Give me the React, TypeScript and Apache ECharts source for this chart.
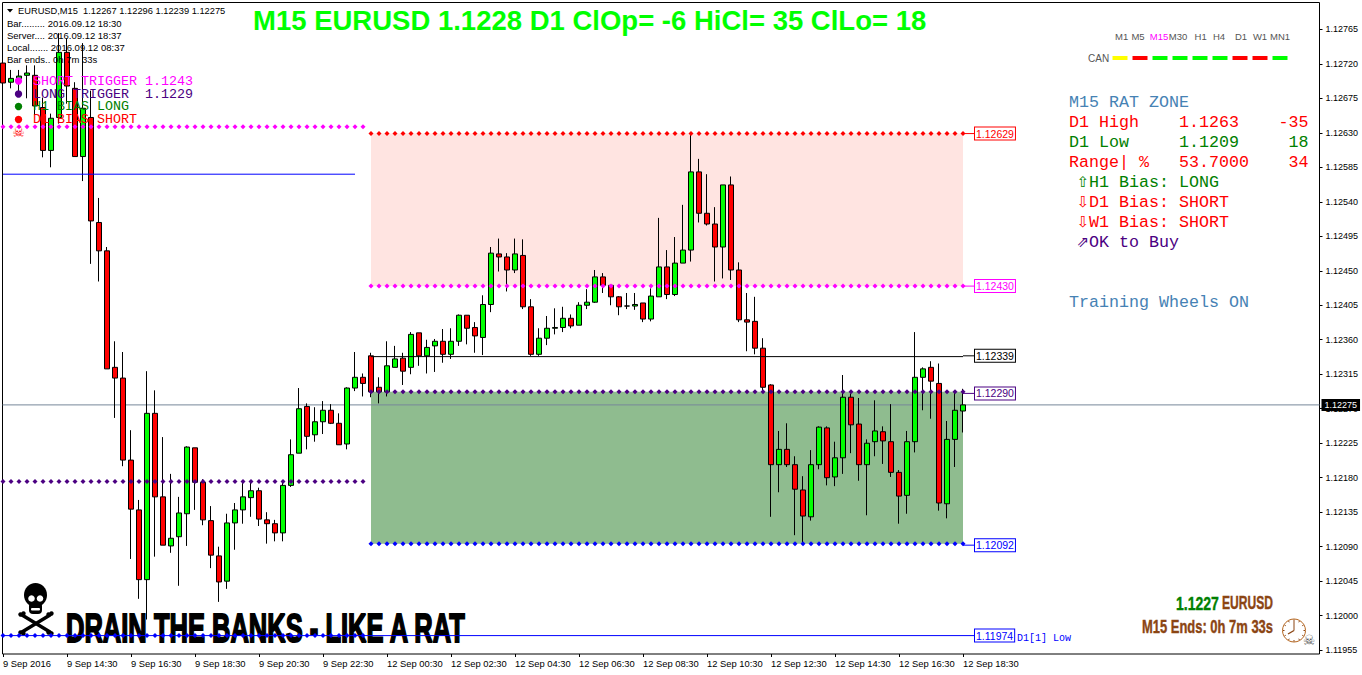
import React, { useEffect, useRef } from "react";
import * as echarts from "echarts";

const xLabels = ["9 Sep 2016","9 Sep 14:30","9 Sep 16:30","9 Sep 18:30","9 Sep 20:30","9 Sep 22:30","12 Sep 00:30","12 Sep 02:30","12 Sep 04:30","12 Sep 06:30","12 Sep 08:30","12 Sep 10:30","12 Sep 12:30","12 Sep 14:30","12 Sep 16:30","12 Sep 18:30"];
const yTicks = [1.11955,1.12,1.12045,1.1209,1.12135,1.1218,1.12225,1.1227,1.12315,1.1236,1.12405,1.1245,1.12495,1.1254,1.12585,1.1263,1.12675,1.1272,1.12765];

const open = [
1.12721,1.12696,1.12701,1.12705,1.12705,1.12663,1.12607,1.12650,1.12735,1.12688,
1.12599,1.12650,1.12513,1.12476,1.12324,1.12310,1.12203,1.12138,1.12047,1.12264,
1.12155,1.12091,1.12103,1.12133,1.12219,1.12174,1.12124,1.12078,1.12045,1.12121,
1.12138,1.12154,1.12163,1.12125,1.12120,1.12108,1.12170,1.12212,1.12273,1.12236,
1.12253,1.12268,1.12251,1.12224,1.12297,1.12311,1.12339,1.12298,1.12292,1.12324,
1.12336,1.12324,1.12369,1.12339,1.12352,1.12358,1.12341,1.12358,1.12392,1.12376,
1.12363,1.12406,1.12472,1.12468,1.12451,1.12470,1.12403,1.12341,1.12362,1.12375,
1.12376,1.12388,1.12379,1.12405,1.12409,1.12442,1.12431,1.12416,1.12404,1.12404,
1.12408,1.12387,1.12416,1.12455,1.12419,1.12460,1.12477,1.12579,1.12525,1.12511,
1.12481,1.12562,1.12451,1.12386,1.12384,1.12349,1.12301,1.12197,1.12217,1.12197,
1.12164,1.12129,1.12197,1.12245,1.12181,1.12206,1.12285,1.12250,1.12197,1.12227,
1.12240,1.12227,1.12187,1.12157,1.12227,1.12311,1.12324,1.12303,1.12146,1.12230,1.12267];
const high = [
1.12748,1.12712,1.12712,1.12718,1.12718,1.12676,1.12655,1.12760,1.12753,1.12696,
1.12747,1.12685,1.12545,1.12481,1.12358,1.12344,1.12242,1.12151,1.12319,1.12294,
1.12233,1.12185,1.12155,1.12221,1.12219,1.12178,1.12143,1.12090,1.12133,1.12147,
1.12173,1.12177,1.12167,1.12135,1.12125,1.12174,1.12230,1.12297,1.12277,1.12272,
1.12280,1.12276,1.12264,1.12298,1.12344,1.12316,1.12343,1.12311,1.12358,1.12352,
1.12343,1.12370,1.12369,1.12360,1.12361,1.12374,1.12375,1.12393,1.12392,1.12383,
1.12418,1.12481,1.12492,1.12473,1.12492,1.12491,1.12413,1.12375,1.12391,1.12401,
1.12403,1.12393,1.12409,1.12426,1.12451,1.12447,1.12431,1.12417,1.12421,1.12421,
1.12408,1.12427,1.12519,1.12477,1.12494,1.12536,1.12627,1.12596,1.12576,1.12533,
1.12562,1.12573,1.12461,1.12421,1.12416,1.12362,1.12302,1.12241,1.12251,1.12208,
1.12182,1.12216,1.12247,1.12247,1.12227,1.12314,1.12290,1.12284,1.12230,1.12281,
1.12247,1.12276,1.12190,1.12241,1.12370,1.12324,1.12332,1.12329,1.12254,1.12293,1.12296];
const low = [
1.12688,1.12688,1.12679,1.12675,1.12653,1.12598,1.12585,1.12642,1.12668,1.12599,
1.12567,1.12459,1.12436,1.12322,1.12258,1.12195,1.12074,1.12022,1.11995,1.12077,
1.12092,1.12082,1.12039,1.12091,1.12138,1.12118,1.12062,1.12018,1.12035,1.12086,
1.12120,1.12129,1.12117,1.12094,1.12097,1.12097,1.12168,1.12212,1.12217,1.12227,
1.12237,1.12250,1.12223,1.12217,1.12293,1.12286,1.12285,1.12277,1.12286,1.12324,
1.12301,1.12315,1.12326,1.12316,1.12318,1.12330,1.12335,1.12352,1.12354,1.12343,
1.12340,1.12396,1.12449,1.12423,1.12447,1.12400,1.12339,1.12339,1.12353,1.12367,
1.12370,1.12375,1.12379,1.12400,1.12408,1.12421,1.12405,1.12392,1.12400,1.12399,
1.12383,1.12384,1.12416,1.12413,1.12417,1.12460,1.12462,1.12513,1.12509,1.12436,
1.12440,1.12438,1.12383,1.12345,1.12341,1.12294,1.12129,1.12161,1.12194,1.12105,
1.12095,1.12124,1.12191,1.12170,1.12169,1.12185,1.12212,1.12176,1.12131,1.12208,
1.12198,1.12181,1.12120,1.12133,1.12213,1.12268,1.12257,1.12137,1.12127,1.12194,1.12239];
const close = [
1.12695,1.12701,1.12704,1.12708,1.12665,1.12607,1.12649,1.12735,1.12691,1.12599,
1.12662,1.12515,1.12476,1.12322,1.12310,1.12203,1.12139,1.12047,1.12264,1.12155,
1.12092,1.12101,1.12134,1.12220,1.12174,1.12125,1.12079,1.12044,1.12121,1.12138,
1.12155,1.12163,1.12126,1.12120,1.12108,1.12170,1.12210,1.12270,1.12234,1.12253,
1.12268,1.12251,1.12223,1.12297,1.12311,1.12303,1.12292,1.12292,1.12326,1.12335,
1.12319,1.12367,1.12339,1.12350,1.12358,1.12341,1.12358,1.12392,1.12375,1.12365,
1.12406,1.12473,1.12468,1.12451,1.12472,1.12403,1.12341,1.12362,1.12375,1.12376,
1.12388,1.12378,1.12405,1.12409,1.12442,1.12431,1.12416,1.12403,1.12404,1.12406,
1.12387,1.12417,1.12455,1.12419,1.12460,1.12477,1.12579,1.12525,1.12511,1.12481,
1.12562,1.12451,1.12386,1.12383,1.12349,1.12298,1.12197,1.12217,1.12197,1.12165,
1.12130,1.12197,1.12246,1.12180,1.12206,1.12285,1.12249,1.12197,1.12225,1.12241,
1.12228,1.12187,1.12156,1.12227,1.12311,1.12322,1.12306,1.12147,1.12230,1.12268,1.12275];

const lastPrice = 1.12275;
const shortTrigger = 1.12638;
const longTrigger = 1.12175;
const blueSupport = 1.12576;
const d1Low = 1.11974;
const zoneHigh = 1.12629;
const zoneHighBase = 1.1243;
const zoneLowTop = 1.12292;
const zoneLowBase = 1.12094;
const midLine = 1.12338;
const boxLabels = [
  { text: "1.12629", value: 1.12629, color: "#ff0000" },
  { text: "1.12430", value: 1.1243, color: "#ff00ff" },
  { text: "1.12339", value: 1.12339, color: "#000000" },
  { text: "1.12290", value: 1.1229, color: "#4b0082" },
  { text: "1.12092", value: 1.12092, color: "#0000ff" },
  { text: "1.11974", value: 1.11974, color: "#0000ff" },
];
const tfNames = ["M1","M5","M15","M30","H1","H4","D1","W1","MN1"];
const tfCenters = [1121.7,1138,1159,1178,1200.7,1219,1241,1260,1280];
const canColors = ["#ffff00","#ff0000","#00ff00","#00ff00","#00ff00","#00ff00","#ff0000","#ff0000","#00ff00"];

const N = 165;
const FIRST_ZONE = 46;
const LAST_BAR = 120;
const END = 122;
const SANS = '"Liberation Sans"';
const MONO = '"Liberation Mono"';

const span = (from: number, to: number, v: number) =>
  Array.from({ length: N }, (_, i) => (i >= from && i <= to ? v : null));

const dotted = (v: number, from: number, to: number, color: string, extra: any = {}) => ({
  type: "line", xAxisIndex: 1, yAxisIndex: 1, z: 3, silent: true,
  data: span(from, to, v), symbol: "diamond", symbolSize: 5, showAllSymbol: true,
  itemStyle: { color }, lineStyle: { width: 0, opacity: 0 }, ...extra,
});

const solid = (v: number, from: number, to: number, color: string, label?: string, z = 3) => ({
  type: "line", xAxisIndex: 1, yAxisIndex: 1, z, silent: true,
  data: span(from, to, v), showSymbol: false, lineStyle: { width: 1, color },
  itemStyle: { color },
  endLabel: label ? {
    show: true, formatter: label, color, fontFamily: SANS, fontSize: 10.5,
    backgroundColor: "#ffffff", borderColor: color, borderWidth: 1,
    padding: [1, 1, 0, 1], distance: -4,
  } : { show: false },
});

const txt = (text: string, x: number, y: number, fill: string, font: string, extra: any = {}) => {
  const { textAlign, z, scaleX, stroke, lineWidth } = extra;
  return {
    type: "text", x, y, z: z ?? 100, scaleX: scaleX ?? 1, silent: true,
    style: { text, fill, font, textAlign: textAlign ?? "left", textVerticalAlign: "middle",
      ...(stroke ? { stroke, lineWidth } : {}) },
  };
};

const legendFont = `13.33px ${MONO}`;
const panelFont = `16.67px ${MONO}`;
const infoFont = `9.5px ${SANS}`;

function buildGraphics() {
  const el: any[] = [];
  // top-left info block
  el.push({ type: "polygon", z: 100, silent: true, shape: { points: [[7, 9], [13, 9], [10, 12.5]] }, style: { fill: "#000" } });
  el.push(txt("EURUSD,M15  1.12267 1.12296 1.12239 1.12275", 18, 10.5, "#000", `9.3px ${SANS}`));
  el.push(txt("Bar......... 2016.09.12 18:30", 7, 23, "#000", infoFont));
  el.push(txt("Server.... 2016.09.12 18:37", 7, 35, "#000", infoFont));
  el.push(txt("Local....... 2016.09.12 08:37", 7, 47.5, "#000", infoFont));
  el.push(txt("Bar ends.. 0h 7m 33s", 7, 59.5, "#000", infoFont));
  // trigger legend
  const legend: [string, string, number][] = [
    ["SHORT TRIGGER 1.1243", "#ff00ff", 81],
    ["LONG TRIGGER  1.1229", "#4b0082", 94],
    ["H1 BIAS LONG", "#008000", 106.5],
    ["D1 BIAS SHORT", "#ff0000", 119.5],
  ];
  legend.forEach(([t, c, y]) => {
    el.push({ type: "circle", z: 100, silent: true, shape: { cx: 18.5, cy: y, r: 3.7 }, style: { fill: c } });
    el.push(txt(t, 33, y, c, legendFont));
  });
  el.push(txt("☠", 18.5, 132, "#ff0000", `14px "DejaVu Sans"`, { textAlign: "center" }));
  // title
  el.push(txt("M15 EURUSD 1.1228 D1 ClOp= -6 HiCl= 35 ClLo= 18", 253, 20, "#00ff00", `bold 27.5px ${SANS}`));
  // timeframe table
  tfNames.forEach((n, i) => {
    el.push(txt(n, tfCenters[i], 36, n === "M15" ? "#ff00ff" : "#555555", `9.5px ${SANS}`, { textAlign: "center" }));
    el.push({ type: "rect", z: 100, silent: true, shape: { x: 1112.5 + i * 20, y: 56, width: 15, height: 4 }, style: { fill: canColors[i] } });
  });
  el.push(txt("CAN", 1088, 58.5, "#555555", `10px ${SANS}`));
  // rat-zone panel
  el.push(txt("M15 RAT ZONE", 1069, 102, "#4682b4", panelFont));
  const rows: [string, string, string, string, number][] = [
    ["D1 High", "1.1263", "-35", "#ff0000", 122],
    ["D1 Low", "1.1209", "18", "#008000", 142],
    ["Range| %", "53.7000", "34", "#ff0000", 162],
  ];
  rows.forEach(([a, b, c, col, y]) => {
    el.push(txt(a, 1069, y, col, panelFont));
    el.push(txt(b, 1179, y, col, panelFont));
    el.push(txt(c, 1308.5, y, col, panelFont, { textAlign: "right" }));
  });
  const bias: [string, string, string, number][] = [
    ["⇧", "H1 Bias: LONG", "#008000", 182],
    ["⇩", "D1 Bias: SHORT", "#ff0000", 202],
    ["⇩", "W1 Bias: SHORT", "#ff0000", 222],
    ["⇗", "OK to Buy", "#4b0082", 242],
  ];
  bias.forEach(([g, t, c, y]) => {
    el.push(txt(g, 1083, y, c, `15px "DejaVu Sans"`, { textAlign: "center" }));
    el.push(txt(t, 1089, y, c, panelFont));
  });
  el.push(txt("Training Wheels ON", 1069, 302, "#4682b4", panelFont));
  el.push(txt("D1[1] Low", 1017, 638.5, "#0000ff", `10px ${MONO}`));
  // bottom banner
  el.push(txt("DRAIN THE BANKS - LIKE A RAT", 66, 628, "#000", `bold 40px ${SANS}`, { z: 0, scaleX: 0.638, stroke: "#000", lineWidth: 1.8 }));
  // skull and bones
  const bones: number[][] = [[22, 615, 50, 632], [50, 615, 22, 632]];
  bones.forEach(([x1, y1, x2, y2]) => {
    el.push({ type: "line", z: 0, silent: true, shape: { x1, y1, x2, y2 }, style: { stroke: "#000", lineWidth: 3.5, lineCap: "round" } });
    [[x1, y1], [x2, y2]].forEach(([cx, cy]) => {
      const dy = cy < 623 ? -1 : 1;
      el.push({ type: "circle", z: 0, silent: true, shape: { cx: cx - 1.5, cy: cy + dy * 0.5, r: 2.2 }, style: { fill: "#000" } });
      el.push({ type: "circle", z: 0, silent: true, shape: { cx: cx + 1.5, cy: cy + dy * 1.5, r: 2.2 }, style: { fill: "#000" } });
    });
  });
  el.push({ type: "ellipse", z: 0, silent: true, shape: { cx: 35.5, cy: 595, rx: 11.5, ry: 12 }, style: { fill: "#000" } });
  el.push({ type: "rect", z: 0, silent: true, shape: { x: 29, y: 602, width: 13, height: 12, r: 4 }, style: { fill: "#000" } });
  el.push({ type: "circle", z: 0, silent: true, shape: { cx: 31.5, cy: 598.5, r: 3.3 }, style: { fill: "#fff" } });
  el.push({ type: "circle", z: 0, silent: true, shape: { cx: 40, cy: 598.5, r: 3.3 }, style: { fill: "#fff" } });
  el.push({ type: "rect", z: 0, silent: true, shape: { x: 31, y: 608, width: 9, height: 2.5, r: 1 }, style: { fill: "#fff" } });
  // bottom-right
  el.push(txt("1.1227", 1176, 603, "#008000", `bold 18px ${SANS}`, { scaleX: 0.78, stroke: "#008000", lineWidth: 0.4 }));
  el.push(txt("EURUSD", 1222, 603, "#8b4513", `bold 18px ${SANS}`, { scaleX: 0.67, stroke: "#8b4513", lineWidth: 0.4 }));
  el.push(txt("M15 Ends: 0h 7m 33s", 1142, 627, "#8b4513", `bold 18px ${SANS}`, { scaleX: 0.72, stroke: "#8b4513", lineWidth: 0.4 }));
  el.push({ type: "circle", z: 100, silent: true, shape: { cx: 1294, cy: 630.5, r: 11.5 }, style: { fill: "#fff", stroke: "#b5651d", lineWidth: 1 } });
  for (let h = 0; h < 12; h++) {
    const a = (h * Math.PI) / 6;
    el.push({ type: "line", z: 100, silent: true, shape: { x1: 1294 + 9.5 * Math.sin(a), y1: 630.5 - 9.5 * Math.cos(a), x2: 1294 + 11 * Math.sin(a), y2: 630.5 - 11 * Math.cos(a) }, style: { stroke: "#8b4513", lineWidth: 1 } });
  }
  el.push({ type: "line", z: 100, silent: true, shape: { x1: 1294, y1: 630.5, x2: 1294, y2: 621 }, style: { stroke: "#8b4513", lineWidth: 1 } });
  el.push({ type: "line", z: 100, silent: true, shape: { x1: 1294, y1: 630.5, x2: 1288, y2: 634 }, style: { stroke: "#8b4513", lineWidth: 1.4 } });
  el.push(txt("☠", 1309, 639.5, "#555555", `14px "DejaVu Sans"`, { textAlign: "center" }));
  return el;
}

export default function App() {
  const ref = useRef<HTMLDivElement>(null);
  useEffect(() => {
    document.body.style.margin = "0";
    document.body.style.background = "#fff";
    const chart = echarts.init(ref.current!, undefined, { renderer: "svg" });
    const categories = Array.from({ length: N }, (_, i) => (i % 8 === 0 && i / 8 < xLabels.length ? xLabels[i / 8] : ""));
    const isTick = (i: number) => i % 8 === 0 && i <= LAST_BAR;
    const yRange = { min: 1.1195, max: 1.128 };

    chart.setOption({
      animation: false,
      backgroundColor: "#ffffff",
      grid: [
        { left: 2.5, top: 2.5, width: 1317, height: 651.5, show: true, borderColor: "#000", borderWidth: 1, backgroundColor: "transparent" },
        { left: 3, top: 2.5, width: 1312, height: 651.5 },
      ],
      xAxis: [
        { gridIndex: 0, type: "category", show: false, boundaryGap: false, data: ["a", "b"] },
        {
          gridIndex: 1, type: "category", boundaryGap: false, data: categories,
          axisLine: { show: false },
          axisTick: { show: true, interval: (i: number) => isTick(i), length: 3, lineStyle: { color: "#000" } },
          axisLabel: {
            show: true, interval: (i: number) => isTick(i), align: "left", margin: 5,
            color: "#000", fontFamily: SANS, fontSize: 9.4, hideOverlap: false,
          },
          splitLine: { show: false },
        },
      ],
      yAxis: [
        {
          gridIndex: 0, type: "value", position: "right", ...yRange,
          axisLine: { show: false }, splitLine: { show: false },
          axisTick: { show: true, length: 3, customValues: yTicks, lineStyle: { color: "#000" } },
          axisLabel: {
            show: true, customValues: yTicks, margin: 6, color: "#000",
            fontFamily: SANS, fontSize: 9, formatter: (v: number) => v.toFixed(5),
          },
        },
        { gridIndex: 1, type: "value", show: false, ...yRange },
      ],
      series: [
        {
          type: "line", xAxisIndex: 0, yAxisIndex: 0, z: 1.5, silent: true,
          data: [lastPrice, lastPrice], showSymbol: false,
          lineStyle: { width: 1, color: "#778899" },
          endLabel: {
            show: true, formatter: lastPrice.toFixed(5), color: "#fff", fontFamily: SANS, fontSize: 9,
            backgroundColor: "#000", padding: [2, 3, 1, 3], distance: 2,
          },
        },
        {
          type: "candlestick", xAxisIndex: 1, yAxisIndex: 1, z: 2, silent: true, barWidth: 5,
          data: open.map((o, i) => [o, close[i], low[i], high[i]]),
          itemStyle: { color: "#00ff00", color0: "#ff0000", borderColor: "#000", borderColor0: "#000", borderWidth: 1 },
        },
        dotted(zoneHigh, FIRST_ZONE, LAST_BAR, "#ff0000", {
          markArea: { silent: true, itemStyle: { color: "#ffe4e1", opacity: 1 }, data: [[{ xAxis: FIRST_ZONE, yAxis: zoneHigh }, { xAxis: LAST_BAR, yAxis: zoneHighBase }]] },
        }),
        dotted(zoneHighBase, FIRST_ZONE, LAST_BAR, "#ff00ff"),
        dotted(zoneLowTop, FIRST_ZONE, LAST_BAR, "#4b0082", {
          markArea: { silent: true, itemStyle: { color: "#8fbc8f", opacity: 1 }, data: [[{ xAxis: FIRST_ZONE, yAxis: zoneLowTop }, { xAxis: LAST_BAR, yAxis: zoneLowBase }]] },
        }),
        dotted(zoneLowBase, FIRST_ZONE, LAST_BAR, "#0000ff"),
        dotted(shortTrigger, 0, 45, "#ff00ff"),
        dotted(longTrigger, 0, 45, "#4b0082"),
        dotted(d1Low, 0, 45, "#0000ff"),
        solid(blueSupport, 0, 44, "#0000ff"),
        solid(midLine, FIRST_ZONE, LAST_BAR, "#000000"),
        ...boxLabels.map((b) => solid(b.value, b.value === d1Low ? 0 : LAST_BAR, END, b.color, b.text, 4)),
      ],
      graphic: { elements: buildGraphics() },
    });
    return () => chart.dispose();
  }, []);
  return <div ref={ref} style={{ position: "absolute", left: 0, top: 0, width: 1362, height: 675 }} />;
}
